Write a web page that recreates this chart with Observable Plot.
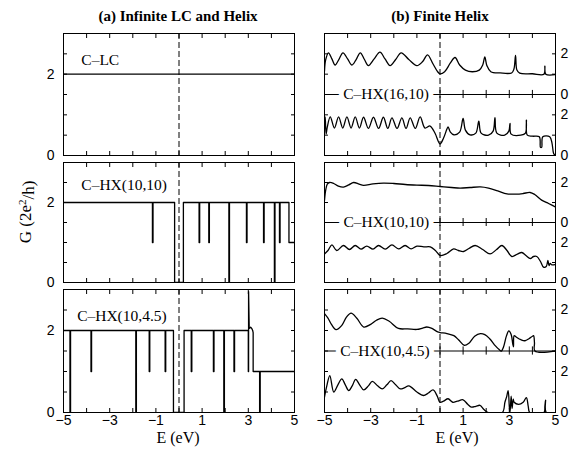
<!DOCTYPE html>
<html><head><meta charset="utf-8">
<script src="https://cdn.jsdelivr.net/npm/d3@7"></script>
<script src="https://cdn.jsdelivr.net/npm/@observablehq/plot@0.6"></script>
<style>
body{margin:0;background:#fff;}
#chart{position:relative;width:574px;height:451px;background:#fff;overflow:hidden;}
#chart svg{position:absolute;}
</style></head><body><div id="chart"></div>
<script>
// ---------- ticks and labels ----------
const xTicks = [-5,-4,-3,-2,-1,0,1,2,3,4,5];
const xTickLabels = [-5,-3,-1,1,3,5];
const leftYTicks = [0,0.5,1,1.5,2,2.5,3];
const leftYLabels = [0,2];
const rightYTicks = [0,1,2,3,4,5,6];
const rightYLabels = [0,2,3,5];
const rightYLabelText = ["0","2","0","2"];
const midTicks = [-4,-3,-2,-1,0,1,2,3,4];
const fermiE = [0];
const upperOffset = 3;
const titles = ["(a) Infinite LC and Helix", "(b) Finite Helix"];
const xLabel = "E (eV)";
const yLabelParts = ["G (2e", "2", "/h)"];
const leftLabels = ["C\u2013LC", "C\u2013HX(10,10)", "C\u2013HX(10,4.5)"];
const rightLabels = ["C\u2013HX(16,10)", "C\u2013HX(10,10)", "C\u2013HX(10,4.5)"];

// ---------- (a) infinite: step data ----------
const lcE = [-5, 5];
const lcG = [2, 2];

const inf1010DipE = [-1.15, 0.87, 1.29, 2.16, 2.92, 3.66, 4.13, 4.35];
const inf1010DipG = [1, 1, 1, 0, 1, 1, 0, 1];
const inf1010Gap = [-0.19, 0.19];
const inf1010TailE = [4.76, 4.76, 5.0];
const inf1010TailG = [2, 1, 1];

const inf1045DipE = [-4.72, -3.81, -1.87, -1.29, -0.60, 0.53, 1.49, 1.94, 2.38];
const inf1045DipG = [0, 1, 0, 1, 1, 1, 1, 0, 1];
const inf1045Gap = [-0.24, 0.22];
const inf1045TailE = [3.0, 3.0, 3.012, 3.012, 3.04, 3.1, 3.15, 3.19, 3.21, 3.21, 3.49, 3.49, 3.515, 3.515, 5.0];
const inf1045TailG = [2, 1, 1, 2.95, 2.05, 2.08, 2.05, 2.0, 1.95, 1, 1, 0, 0, 1, 1];

// ---------- (b) finite helix ----------
const fin1610aE = [-5.0,-4.95,-4.83,-4.68,-4.54,-4.38,-4.2,-4.0,-3.81,-3.63,-3.45,-3.27,-3.1,-2.85,-2.6,-2.38,-2.16,-1.92,-1.68,-1.35,-1.0,-0.75,-0.54,-0.3,-0.1,0.0,0.2,0.45,0.65,0.85,1.1,1.4,1.7,1.85,1.94,2.03,2.2,2.6,3.1,3.2,3.27,3.33,3.45,4.0,4.5,4.54,4.58,5.0];
const fin1610aG = [1.15,1.7,2.05,1.75,1.45,1.72,2.05,1.75,1.45,1.72,2.05,1.72,1.42,1.75,2.08,1.75,1.42,1.72,2.05,1.72,1.42,1.62,1.95,1.5,1.12,1.02,1.12,1.55,1.82,1.45,1.2,1.12,1.2,1.45,1.85,1.42,1.12,1.06,1.06,1.25,1.92,1.2,1.05,1.02,1.0,1.4,1.0,0.98];

const fin1610bE = [-5.0,-4.97,-4.93,-4.88,-4.75,-4.57,-4.39,-4.21,-4.03,-3.85,-3.67,-3.49,-3.31,-3.1,-2.88,-2.66,-2.45,-2.26,-2.08,-1.86,-1.65,-1.47,-1.29,-1.07,-0.86,-0.65,-0.43,-0.21,0.0,0.15,0.3,0.35,0.45,0.6,0.85,1.0,1.1,1.3,1.55,1.68,1.78,2.1,2.3,2.38,2.46,2.8,2.98,3.03,3.08,3.5,3.7,3.74,3.78,4.0,4.3,4.35,4.4,4.45,4.75,4.85,4.92,5.0];
const fin1610bG = [1.35,1.9,1.05,1.4,1.9,1.35,1.9,1.35,1.9,1.35,1.9,1.35,1.88,1.33,1.88,1.33,1.88,1.33,1.85,1.33,1.85,1.33,1.85,1.33,1.9,1.35,1.45,1.08,0.57,0.85,1.3,1.41,1.15,1.02,1.15,1.82,1.25,1.02,1.1,1.69,1.1,1.0,1.2,1.86,1.1,1.0,1.2,1.58,1.05,1.0,1.1,1.74,1.0,0.95,0.92,0.4,0.4,0.92,0.92,0.6,0.1,0.0];

const fin1010aE = [-5.0,-4.95,-4.88,-4.78,-4.6,-4.4,-4.18,-3.95,-3.74,-3.5,-3.31,-2.9,-2.45,-2.0,-1.5,-1.0,-0.5,0.0,0.5,0.87,1.3,1.75,2.1,2.5,2.9,3.3,3.6,3.9,4.1,4.4,4.7,5.0];
const fin1010aG = [1.1,1.6,1.92,2.0,1.95,1.82,1.77,1.88,2.0,1.92,1.86,1.93,1.97,1.95,1.9,1.87,1.85,1.8,1.75,1.72,1.75,1.78,1.72,1.58,1.43,1.42,1.45,1.5,1.4,1.12,0.95,0.78];

const fin1010bE = [-5.0,-4.85,-4.68,-4.47,-4.18,-3.92,-3.67,-3.42,-3.17,-2.9,-2.66,-2.37,-2.08,-1.8,-1.51,-1.25,-1.0,-0.7,-0.42,-0.2,0.01,0.3,0.59,0.8,1.02,1.25,1.52,1.85,2.17,2.45,2.68,2.9,3.11,3.35,3.54,3.72,3.91,4.05,4.19,4.35,4.48,4.6,4.67,4.72,4.77,4.85,5.0];
const fin1010bG = [1.43,1.6,1.88,1.6,1.85,1.65,1.85,1.67,1.82,1.67,1.85,1.67,1.88,1.68,1.85,1.68,1.82,1.78,1.78,1.6,1.35,1.45,1.68,1.6,1.55,1.7,1.85,1.65,1.43,1.65,1.85,1.6,1.3,1.42,1.5,1.35,1.2,1.3,1.3,1.05,0.77,0.8,1.1,0.85,0.95,0.88,0.9];

const fin1045aE = [-5.0,-4.85,-4.7,-4.5,-4.25,-4.05,-3.85,-3.6,-3.3,-3.0,-2.75,-2.5,-2.2,-1.8,-1.4,-1.0,-0.75,-0.57,-0.35,-0.1,0.0,0.3,0.6,0.8,1.05,1.25,1.5,1.75,1.94,2.15,2.4,2.55,2.66,2.75,2.88,2.98,3.08,3.15,3.18,3.21,3.3,3.5,3.68,3.85,4.0,4.05,4.09,4.11,5.0];
const fin1045aG = [1.82,1.6,1.3,1.04,1.25,1.65,1.85,1.6,1.17,1.3,1.5,1.6,1.45,1.1,1.08,1.05,1.12,1.17,1.1,0.93,0.9,0.85,0.75,0.55,0.28,0.38,0.72,0.85,0.8,0.6,0.25,0.08,0.0,0.2,0.75,0.98,0.8,0.35,0.2,0.75,0.68,0.55,0.5,0.6,0.72,0.75,0.4,0.0,0.0];

const fin1045bE = [-5.0,-4.9,-4.77,-4.6,-4.42,-4.25,-4.1,-3.95,-3.8,-3.65,-3.48,-3.3,-3.1,-2.93,-2.7,-2.5,-2.3,-2.12,-1.92,-1.72,-1.55,-1.35,-1.0,-0.72,-0.5,-0.3,-0.12,0.0,0.15,0.35,0.55,0.75,1.0,1.2,1.36,1.55,1.73,1.9,2.09,2.7,2.81,2.88,2.95,3.0,3.03,3.08,3.12,3.17,3.21,3.4,3.6,3.74,3.82,3.89,4.5,4.54,4.57,4.6,5.0];
const fin1045bG = [0.75,1.3,1.8,1.0,1.35,1.64,1.35,1.07,1.3,1.62,1.35,1.1,1.3,1.52,1.3,1.15,1.35,1.55,1.35,1.15,1.2,1.3,1.0,0.83,0.95,1.1,0.8,0.5,0.55,0.67,0.5,0.55,0.62,0.4,0.26,0.3,0.35,0.15,0.0,0.0,0.5,0.75,1.07,0.3,0.0,0.8,0.2,0.65,0.5,0.4,0.5,0.73,0.3,0.0,0.0,0.3,0.6,0.0,0.0];

// ---------- helpers ----------
const DIPW = 0.025;
function zipEG(E, G, off = 0) { return E.map((e, i) => ({E: e, G: G[i] + off})); }
function buildSteps(base, dipE, dipG, gap, tailE, tailG) {
  const ev = dipE.map((e, i) => ({e, g: dipG[i], w: DIPW}));
  ev.push({e: gap[0], g: 0, w: gap[1] - gap[0]});
  ev.sort((a, b) => a.e - b.e);
  const pts = [{E: -5, G: base}];
  for (const d of ev) pts.push({E: d.e, G: base}, {E: d.e, G: d.g}, {E: d.e + d.w, G: d.g}, {E: d.e + d.w, G: base});
  return pts.concat(zipEG(tailE, tailG));
}

const SERIF = "Liberation Serif, Times New Roman, serif";
const SANS = "Liberation Sans, Arial, Helvetica, sans-serif";
const colX = [63, 324], colW = 231;
const rows = [[33, 155], [162, 282], [289, 412]];
const chart = document.getElementById("chart");

function panel(col, row, dataMarks) {
  const x0 = colX[col], [y0, y1] = rows[row], h = y1 - y0;
  const mL = col === 0 ? 45 : 3, mR = col === 0 ? 3 : 25, mT = 3, mB = row === 2 ? 22 : 3;
  const yT = col === 0 ? leftYTicks : rightYTicks;
  const marks = [
    ...dataMarks,
    Plot.ruleX(fermiE, {stroke: "black", strokeWidth: 1, strokeDasharray: "6,3"}),
    Plot.axisX(xTicks, {anchor: "bottom", tickSize: -4, fill: "none", label: null}),
    Plot.axisX(xTicks, {anchor: "top", tickSize: -4, fill: "none", label: null}),
    Plot.axisY(yT, {anchor: "left", tickSize: -4, fill: "none", label: null}),
    Plot.axisY(yT, {anchor: "right", tickSize: -4, fill: "none", label: null}),
    Plot.frame({stroke: "black", strokeWidth: 1})
  ];
  if (col === 0) marks.push(Plot.axisY(leftYLabels, {anchor: "left", tickSize: 0, tickPadding: 9, label: null, tickFormat: d => String(d)}));
  else marks.push(Plot.axisY(rightYLabels, {anchor: "right", tickSize: 0, tickPadding: 5, label: null, tickFormat: (d, i) => rightYLabelText[i]}));
  if (row === 2) marks.push(Plot.axisX(xTickLabels, {anchor: "bottom", tickSize: 0, tickPadding: 3, label: null}));
  const svg = Plot.plot({
    width: mL + colW + mR, height: mT + h + mB,
    marginLeft: mL, marginRight: mR, marginTop: mT, marginBottom: mB,
    x: {domain: [-5, 5]},
    y: {domain: col === 0 ? [0, 3] : [0, 6]},
    style: {fontFamily: SANS, fontSize: "14px", color: "black", background: "transparent", overflow: "visible"},
    marks
  });
  svg.style.left = (x0 - mL) + "px";
  svg.style.top = (y0 - mT) + "px";
  chart.append(svg);
}

const leftLabelPos = [[-4.23, 2.35], [-4.23, 2.43], [-4.41, 2.36]];
function leftMarks(data, r) {
  return [
    Plot.line(data, {x: "E", y: "G", stroke: "black", strokeWidth: 1.3, clip: true}),
    Plot.text([leftLabels[r]], {x: leftLabelPos[r][0], y: leftLabelPos[r][1], text: d => d, textAnchor: "start", fontFamily: SERIF, fontSize: 15.5, fill: "black"})
  ];
}
const rightLabelX = [-4.19, -4.18, -4.32];
function rightMarks(up, low, r) {
  return [
    Plot.line(up, {x: "E", y: "G", stroke: "black", strokeWidth: 1.3, curve: "catmull-rom", clip: true}),
    Plot.line(low, {x: "E", y: "G", stroke: "black", strokeWidth: 1.3, curve: "catmull-rom", clip: true}),
    Plot.ruleY([upperOffset], {stroke: "black", strokeWidth: 1.2}),
    Plot.ruleX(midTicks, {y1: upperOffset - 0.2, y2: upperOffset + 0.2, stroke: "black", strokeWidth: 1}),
    Plot.text([rightLabels[r]], {x: rightLabelX[r], y: upperOffset, text: d => d, textAnchor: "start", fontFamily: SERIF, fontSize: 15.5, fill: "black", stroke: "white", strokeWidth: 10})
  ];
}

panel(0, 0, leftMarks(zipEG(lcE, lcG), 0));
panel(0, 1, leftMarks(buildSteps(2, inf1010DipE, inf1010DipG, inf1010Gap, inf1010TailE, inf1010TailG), 1));
panel(0, 2, leftMarks(buildSteps(2, inf1045DipE, inf1045DipG, inf1045Gap, inf1045TailE, inf1045TailG), 2));
panel(1, 0, rightMarks(zipEG(fin1610aE, fin1610aG, upperOffset), zipEG(fin1610bE, fin1610bG), 0));
panel(1, 1, rightMarks(zipEG(fin1010aE, fin1010aG, upperOffset), zipEG(fin1010bE, fin1010bG), 1));
panel(1, 2, rightMarks(zipEG(fin1045aE, fin1045aG, upperOffset), zipEG(fin1045bE, fin1045bG), 2));

// ---------- overlay text: titles and axis titles ----------
const ov = d3.select(chart).append("svg").attr("width", 574).attr("height", 451)
  .style("left", "0px").style("top", "0px").style("pointer-events", "none");
ov.append("text").attr("x", 178).attr("y", 21).attr("text-anchor", "middle")
  .style("font-family", SERIF).style("font-weight", "bold").style("font-size", "15px").text(titles[0]);
ov.append("text").attr("x", 440).attr("y", 21).attr("text-anchor", "middle")
  .style("font-family", SERIF).style("font-weight", "bold").style("font-size", "15px").text(titles[1]);
ov.append("text").attr("x", 178).attr("y", 443).attr("text-anchor", "middle")
  .style("font-family", SERIF).style("font-size", "16px").text(xLabel);
ov.append("text").attr("x", 457).attr("y", 443).attr("text-anchor", "middle")
  .style("font-family", SERIF).style("font-size", "16px").text(xLabel);
const yl = ov.append("text").attr("transform", "translate(31,212) rotate(-90)").attr("text-anchor", "middle")
  .style("font-family", SERIF).style("font-size", "17px");
yl.append("tspan").text(yLabelParts[0]);
yl.append("tspan").attr("dy", "-0.45em").style("font-size", "11px").text(yLabelParts[1]);
yl.append("tspan").attr("dy", "0.45em").text(yLabelParts[2]);
</script></body></html>
